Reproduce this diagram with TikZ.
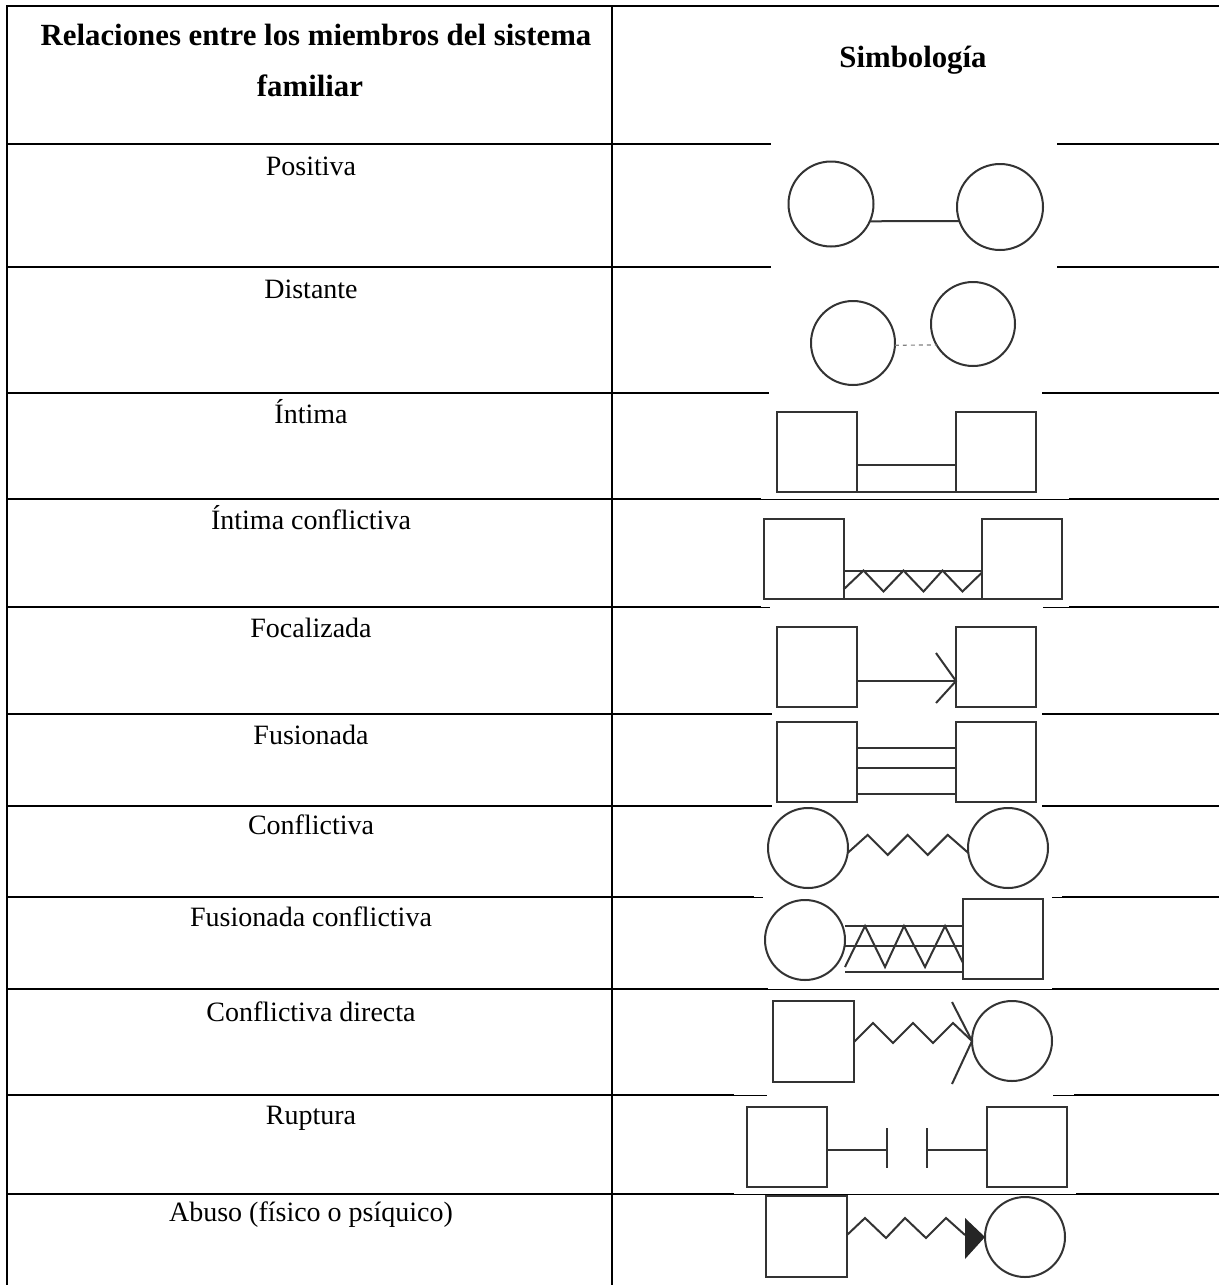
\documentclass[tikz,border=0pt]{standalone}
\usepackage{fontspec}
\setmainfont{Liberation Serif}
\usetikzlibrary{calc}

% horizontal table rule: y, thin start, gap start, gap end, thin end
\newcommand\tablerule[5]{%
  \draw[rule] (7,#1) -- (#2,#1);
  \draw[thinrule] (#2,#1) -- (#3,#1);
  \draw[thinrule] (#4,#1) -- (#5,#1);
  \draw[rule] (#5,#1) -- (1219,#1);
}

\begin{document}
\begin{tikzpicture}[x=0.5pt,y=-0.5pt,
  rule/.style={line width=1.3pt, line cap=rect},
  thinrule/.style={line width=0.5pt},
  sym/.style={draw=black!80, line width=1pt, line join=miter},
  circ/.style={sym, circle, inner sep=0pt, outer sep=0pt},
  sq/.style={sym, rectangle, inner sep=0pt, outer sep=0pt},
  lbl/.style={font=\fontsize{14}{16}\selectfont, anchor=base, inner sep=0pt},
  head/.style={font=\bfseries\fontsize{15.4}{18}\selectfont, anchor=base, inner sep=0pt},
]
\useasboundingbox[fill=white] (0,0) rectangle (1219,1285);

% ---- table grid ----
\tablerule{6}{1219}{1219}{1219}{1219}
\tablerule{144}{770}{770}{1058}{1058}
\tablerule{267}{770}{770}{1058}{1058}
\tablerule{393}{768}{768}{1043}{1043}
\tablerule{499}{760}{760}{760}{1070}
\tablerule{607}{760}{770}{1043}{1070}
\tablerule{714}{771}{771}{1043}{1043}
\tablerule{806}{771}{771}{1043}{1043}
\tablerule{897}{753}{763}{1052}{1063}
\tablerule{989}{767}{767}{767}{1053}
\tablerule{1095}{733}{767}{1053}{1075}
\tablerule{1194}{733}{733}{733}{1077}
\draw[rule] (7,6) -- (7,1285);
\draw[line width=1pt] (612,6) -- (612,1285);

% ---- header ----
\node[head] (h1) at (316,45) {Relaciones entre los miembros del sistema};
\node[head] (h1b) at (310,96) {familiar};
\node[head] (h2) at (913,67) {Simbología};

% ---- row labels ----
\node[lbl] (t1) at (311,175) {Positiva};
\node[lbl] (t2) at (311,298) {Distante};
\node[lbl] (t3) at (311,423) {Íntima};
\node[lbl] (t4) at (311,529) {Íntima conflictiva};
\node[lbl] (t5) at (311,637) {Focalizada};
\node[lbl] (t6) at (311,744) {Fusionada};
\node[lbl] (t7) at (311,834) {Conflictiva};
\node[lbl] (t8) at (311,926) {Fusionada conflictiva};
\node[lbl] (t9) at (311,1021) {Conflictiva directa};
\node[lbl] (t10) at (311,1124) {Ruptura};
\node[lbl] (t11) at (311,1221) {Abuso (físico o psíquico)};

% ---- Positiva ----
\node[circ, minimum size=42.5pt] (p1) at (831,204) {};
\node[circ, minimum size=43pt] (p2) at (1000,207) {};
\draw[sym] (p1.-24) -- (p2.199);

% ---- Distante ----
\node[circ, minimum size=42pt] (d1) at (853,343) {};
\node[circ, minimum size=42pt] (d2) at (973,324) {};
\draw[draw=gray, line width=0.6pt, dash pattern=on 2pt off 2pt] (d1.-3) -- (d2.210);

% ---- Intima ----
\node[sq, minimum size=40pt] (i1) at (817,452) {};
\node[sq, minimum size=40pt] (i2) at (996,452) {};
\draw[sym] ($(i1.east)+(0,13)$) -- ($(i2.west)+(0,13)$);
\draw[sym] (i1.south east) -- (i2.south west);

% ---- Intima conflictiva ----
\node[sq, minimum size=40pt] (ic1) at (803.5,558.5) {};
\node[sq, minimum size=40pt] (ic2) at (1022,558.5) {};
\draw[sym] ($(ic1.east)+(0,12.5)$) -- ($(ic2.west)+(0,12.5)$);
\draw[sym] (ic1.south east) -- (ic2.south west);
\draw[sym] ($(ic1.south east)+(0,-9)$) -- ++(20,-19) -- ++(20,21) -- ++(20,-21)
  -- ++(20,21) -- ++(19,-21) -- ++(20,21) -- ($(ic2.south west)+(0,-26)$);

% ---- Focalizada ----
\node[sq, minimum size=40pt] (f1) at (817,667) {};
\node[sq, minimum size=40pt] (f2) at (996,667) {};
\draw[sym] ($(f1.east)+(0,14)$) -- ($(f2.west)+(0,14)$);
\draw[sym] ($(f2.west)+(-20,-14)$) -- ($(f2.west)+(0,14)$) -- ($(f2.west)+(-20,36)$);

% ---- Fusionada ----
\node[sq, minimum size=40pt] (fu1) at (817,762) {};
\node[sq, minimum size=40pt] (fu2) at (996,762) {};
\draw[sym] ($(fu1.east)+(0,-14)$) -- ($(fu2.west)+(0,-14)$);
\draw[sym] ($(fu1.east)+(0,6)$) -- ($(fu2.west)+(0,6)$);
\draw[sym] ($(fu1.east)+(0,32)$) -- ($(fu2.west)+(0,32)$);

% ---- Conflictiva ----
\node[circ, minimum size=40pt] (c1) at (808,848) {};
\node[circ, minimum size=40pt] (c2) at (1008,848) {};
\draw[sym] (c1.-7) -- ++(20,-18) -- ++(20,20) -- ++(20,-20) -- ++(20,20)
  -- ++(20,-20) -- (c2.187);

% ---- Fusionada conflictiva ----
\node[circ, minimum size=40pt] (fc1) at (805,940) {};
\node[sq, minimum size=40pt] (fc2) at (1003,939) {};
\draw[sym] (fc1.east |- 0,926) -- (fc2.west |- 0,926);
\draw[sym] (fc1.east |- 0,946) -- (fc2.west |- 0,946);
\draw[sym] (fc1.east |- 0,972) -- (fc2.west |- 0,972);
\draw[sym] (fc1.east |- 0,967) -- ++(20,-41) -- ++(20,41) -- ++(19,-41)
  -- ++(21,41) -- ++(20,-41) -- (fc2.west |- 0,963);

% ---- Conflictiva directa ----
\node[sq, minimum size=40.5pt] (cd1) at (813.5,1041.5) {};
\node[circ, minimum size=40pt] (cd2) at (1012,1041) {};
\draw[sym] (cd1.east |- 0,1042) -- ++(19,-19) -- ++(20,20) -- ++(20,-20)
  -- ++(20,20) -- ++(20,-20) -- (cd2.west);
\draw[sym] ($(cd2.west)+(-20,-39)$) -- (cd2.west) -- ($(cd2.west)+(-20,43)$);

% ---- Ruptura ----
\node[sq, minimum size=40pt] (r1) at (787,1147) {};
\node[sq, minimum size=40pt] (r2) at (1027,1147) {};
\coordinate (rt1) at (887,1150);
\coordinate (rt2) at (927,1150);
\draw[sym] (r1.east |- rt1) -- (rt1);
\draw[sym] ($(rt1)+(0,-22)$) -- ($(rt1)+(0,18)$);
\draw[sym] (rt2) -- (r2.west |- rt2);
\draw[sym] ($(rt2)+(0,-22)$) -- ($(rt2)+(0,18)$);

% ---- Abuso ----
\node[sq, minimum size=40.5pt] (a1) at (806.5,1236.5) {};
\node[circ, minimum size=40pt] (a2) at (1025,1237) {};
\draw[sym] (a1.east |- 0,1235) -- ++(18,-17) -- ++(21,20) -- ++(19,-20)
  -- ++(21,20) -- ++(20,-20) -- ++(19,17);
\fill[black!85] ($(a2.west)+(-20,-19)$) -- ($(a2.west)+(-20,22)$) -- (a2.west) -- cycle;
\end{tikzpicture}
\end{document}
